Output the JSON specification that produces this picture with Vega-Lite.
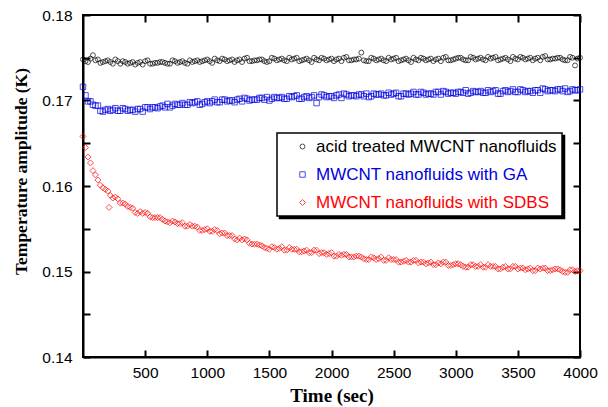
{
"$schema": "https://vega.github.io/schema/vega-lite/v6.json",
"width": 497, "height": 342,
"autosize": {"type": "none"},
"padding": {"left": 83, "top": 15, "right": 28, "bottom": 50},
"background": "white",
"config": {
 "view": {"stroke": "black", "strokeWidth": 2},
 "axis": {"grid": false, "domainColor": "black", "domainWidth": 2,
  "labelFont": "Liberation Sans", "labelFontSize": 15.5, "labelColor": "black",
  "titleFont": "Liberation Serif", "titleFontWeight": "bold", "titleColor": "black"},
 "legend": {"strokeWidth": 1.5}
},
"data": {"values": [
{"t":0,"s":"a","v":0.1748},{"t":40,"s":"a","v":0.1745},{"t":80,"s":"a","v":0.1753},{"t":120,"s":"a","v":0.1748},{"t":160,"s":"a","v":0.1745},{"t":200,"s":"a","v":0.1747},{"t":240,"s":"a","v":0.1743},{"t":280,"s":"a","v":0.1746},{"t":320,"s":"a","v":0.1746},{"t":360,"s":"a","v":0.1743},
{"t":400,"s":"a","v":0.1745},{"t":440,"s":"a","v":0.1744},{"t":480,"s":"a","v":0.1742},{"t":520,"s":"a","v":0.1747},{"t":560,"s":"a","v":0.1743},{"t":600,"s":"a","v":0.1744},{"t":640,"s":"a","v":0.1745},{"t":680,"s":"a","v":0.1743},{"t":720,"s":"a","v":0.1747},{"t":760,"s":"a","v":0.1744},
{"t":800,"s":"a","v":0.1746},{"t":840,"s":"a","v":0.1743},{"t":880,"s":"a","v":0.1745},{"t":920,"s":"a","v":0.1747},{"t":960,"s":"a","v":0.1746},{"t":1000,"s":"a","v":0.1748},{"t":1040,"s":"a","v":0.1744},{"t":1080,"s":"a","v":0.1747},{"t":1120,"s":"a","v":0.1749},{"t":1160,"s":"a","v":0.1746},
{"t":1200,"s":"a","v":0.1748},{"t":1240,"s":"a","v":0.1747},{"t":1280,"s":"a","v":0.1745},{"t":1320,"s":"a","v":0.1750},{"t":1360,"s":"a","v":0.1746},{"t":1400,"s":"a","v":0.1747},{"t":1440,"s":"a","v":0.1748},{"t":1480,"s":"a","v":0.1745},{"t":1520,"s":"a","v":0.1750},{"t":1560,"s":"a","v":0.1747},
{"t":1600,"s":"a","v":0.1749},{"t":1640,"s":"a","v":0.1746},{"t":1680,"s":"a","v":0.1748},{"t":1720,"s":"a","v":0.1750},{"t":1760,"s":"a","v":0.1747},{"t":1800,"s":"a","v":0.1749},{"t":1840,"s":"a","v":0.1745},{"t":1880,"s":"a","v":0.1748},{"t":1920,"s":"a","v":0.1750},{"t":1960,"s":"a","v":0.1747},
{"t":2000,"s":"a","v":0.1749},{"t":2040,"s":"a","v":0.1748},{"t":2080,"s":"a","v":0.1746},{"t":2120,"s":"a","v":0.1751},{"t":2160,"s":"a","v":0.1747},{"t":2200,"s":"a","v":0.1748},{"t":2240,"s":"a","v":0.1756},{"t":2280,"s":"a","v":0.1746},{"t":2320,"s":"a","v":0.1750},{"t":2360,"s":"a","v":0.1747},
{"t":2400,"s":"a","v":0.1749},{"t":2440,"s":"a","v":0.1746},{"t":2480,"s":"a","v":0.1748},{"t":2520,"s":"a","v":0.1750},{"t":2560,"s":"a","v":0.1747},{"t":2600,"s":"a","v":0.1749},{"t":2640,"s":"a","v":0.1745},{"t":2680,"s":"a","v":0.1748},{"t":2720,"s":"a","v":0.1750},{"t":2760,"s":"a","v":0.1747},
{"t":2800,"s":"a","v":0.1749},{"t":2840,"s":"a","v":0.1748},{"t":2880,"s":"a","v":0.1746},{"t":2920,"s":"a","v":0.1751},{"t":2960,"s":"a","v":0.1747},{"t":3000,"s":"a","v":0.1749},{"t":3040,"s":"a","v":0.1750},{"t":3080,"s":"a","v":0.1747},{"t":3120,"s":"a","v":0.1751},{"t":3160,"s":"a","v":0.1748},
{"t":3200,"s":"a","v":0.1750},{"t":3240,"s":"a","v":0.1747},{"t":3280,"s":"a","v":0.1749},{"t":3320,"s":"a","v":0.1751},{"t":3360,"s":"a","v":0.1748},{"t":3400,"s":"a","v":0.1750},{"t":3440,"s":"a","v":0.1746},{"t":3480,"s":"a","v":0.1749},{"t":3520,"s":"a","v":0.1751},{"t":3560,"s":"a","v":0.1748},
{"t":3600,"s":"a","v":0.1750},{"t":3640,"s":"a","v":0.1749},{"t":3680,"s":"a","v":0.1747},{"t":3720,"s":"a","v":0.1752},{"t":3760,"s":"a","v":0.1748},{"t":3800,"s":"a","v":0.1749},{"t":3840,"s":"a","v":0.1750},{"t":3880,"s":"a","v":0.1747},{"t":3920,"s":"a","v":0.1751},{"t":3960,"s":"a","v":0.1741},{"t":4000,"s":"a","v":0.1750},
{"t":20,"s":"a","v":0.1746},{"t":60,"s":"a","v":0.1749},{"t":100,"s":"a","v":0.1747},{"t":140,"s":"a","v":0.1744},{"t":180,"s":"a","v":0.1746},{"t":220,"s":"a","v":0.1745},{"t":260,"s":"a","v":0.1748},{"t":300,"s":"a","v":0.1743},{"t":340,"s":"a","v":0.1745},{"t":380,"s":"a","v":0.1744},
{"t":420,"s":"a","v":0.1742},{"t":460,"s":"a","v":0.1745},{"t":500,"s":"a","v":0.1746},{"t":540,"s":"a","v":0.1743},{"t":580,"s":"a","v":0.1744},{"t":620,"s":"a","v":0.1745},{"t":660,"s":"a","v":0.1744},{"t":700,"s":"a","v":0.1743},{"t":740,"s":"a","v":0.1746},{"t":780,"s":"a","v":0.1745},
{"t":820,"s":"a","v":0.1744},{"t":860,"s":"a","v":0.1747},{"t":900,"s":"a","v":0.1746},{"t":940,"s":"a","v":0.1745},{"t":980,"s":"a","v":0.1747},{"t":1020,"s":"a","v":0.1746},{"t":1060,"s":"a","v":0.1749},{"t":1100,"s":"a","v":0.1746},{"t":1140,"s":"a","v":0.1748},{"t":1180,"s":"a","v":0.1747},
{"t":1220,"s":"a","v":0.1745},{"t":1260,"s":"a","v":0.1748},{"t":1300,"s":"a","v":0.1749},{"t":1340,"s":"a","v":0.1746},{"t":1380,"s":"a","v":0.1747},{"t":1420,"s":"a","v":0.1748},{"t":1460,"s":"a","v":0.1746},{"t":1500,"s":"a","v":0.1746},{"t":1540,"s":"a","v":0.1749},{"t":1580,"s":"a","v":0.1748},
{"t":1620,"s":"a","v":0.1747},{"t":1660,"s":"a","v":0.1750},{"t":1700,"s":"a","v":0.1749},{"t":1740,"s":"a","v":0.1746},{"t":1780,"s":"a","v":0.1748},{"t":1820,"s":"a","v":0.1747},{"t":1860,"s":"a","v":0.1750},{"t":1900,"s":"a","v":0.1747},{"t":1940,"s":"a","v":0.1749},{"t":1980,"s":"a","v":0.1748},
{"t":2020,"s":"a","v":0.1746},{"t":2060,"s":"a","v":0.1749},{"t":2100,"s":"a","v":0.1750},{"t":2140,"s":"a","v":0.1747},{"t":2180,"s":"a","v":0.1748},{"t":2220,"s":"a","v":0.1749},{"t":2260,"s":"a","v":0.1747},{"t":2300,"s":"a","v":0.1746},{"t":2340,"s":"a","v":0.1749},{"t":2380,"s":"a","v":0.1748},
{"t":2420,"s":"a","v":0.1747},{"t":2460,"s":"a","v":0.1750},{"t":2500,"s":"a","v":0.1749},{"t":2540,"s":"a","v":0.1746},{"t":2580,"s":"a","v":0.1748},{"t":2620,"s":"a","v":0.1747},{"t":2660,"s":"a","v":0.1750},{"t":2700,"s":"a","v":0.1747},{"t":2740,"s":"a","v":0.1749},{"t":2780,"s":"a","v":0.1748},
{"t":2820,"s":"a","v":0.1746},{"t":2860,"s":"a","v":0.1749},{"t":2900,"s":"a","v":0.1750},{"t":2940,"s":"a","v":0.1747},{"t":2980,"s":"a","v":0.1748},{"t":3020,"s":"a","v":0.1750},{"t":3060,"s":"a","v":0.1748},{"t":3100,"s":"a","v":0.1747},{"t":3140,"s":"a","v":0.1750},{"t":3180,"s":"a","v":0.1749},
{"t":3220,"s":"a","v":0.1748},{"t":3260,"s":"a","v":0.1751},{"t":3300,"s":"a","v":0.1750},{"t":3340,"s":"a","v":0.1747},{"t":3380,"s":"a","v":0.1749},{"t":3420,"s":"a","v":0.1748},{"t":3460,"s":"a","v":0.1751},{"t":3500,"s":"a","v":0.1748},{"t":3540,"s":"a","v":0.1750},{"t":3580,"s":"a","v":0.1749},
{"t":3620,"s":"a","v":0.1747},{"t":3660,"s":"a","v":0.1750},{"t":3700,"s":"a","v":0.1751},{"t":3740,"s":"a","v":0.1748},{"t":3780,"s":"a","v":0.1749},{"t":3820,"s":"a","v":0.1750},{"t":3860,"s":"a","v":0.1748},{"t":3900,"s":"a","v":0.1747},{"t":3940,"s":"a","v":0.1750},{"t":3980,"s":"a","v":0.1749},
{"t":0,"s":"b","v":0.1716},{"t":40,"s":"b","v":0.1699},{"t":80,"s":"b","v":0.1695},{"t":120,"s":"b","v":0.1694},{"t":160,"s":"b","v":0.1687},{"t":200,"s":"b","v":0.1690},{"t":240,"s":"b","v":0.1689},{"t":280,"s":"b","v":0.1688},{"t":320,"s":"b","v":0.1691},{"t":360,"s":"b","v":0.1688},
{"t":400,"s":"b","v":0.1689},{"t":440,"s":"b","v":0.1690},{"t":480,"s":"b","v":0.1687},{"t":520,"s":"b","v":0.1692},{"t":560,"s":"b","v":0.1692},{"t":600,"s":"b","v":0.1691},{"t":640,"s":"b","v":0.1694},{"t":680,"s":"b","v":0.1696},{"t":720,"s":"b","v":0.1694},{"t":760,"s":"b","v":0.1695},
{"t":800,"s":"b","v":0.1697},{"t":840,"s":"b","v":0.1695},{"t":880,"s":"b","v":0.1697},{"t":920,"s":"b","v":0.1699},{"t":960,"s":"b","v":0.1696},{"t":1000,"s":"b","v":0.1699},{"t":1040,"s":"b","v":0.1699},{"t":1080,"s":"b","v":0.1698},{"t":1120,"s":"b","v":0.1701},{"t":1160,"s":"b","v":0.1699},
{"t":1200,"s":"b","v":0.1700},{"t":1240,"s":"b","v":0.1701},{"t":1280,"s":"b","v":0.1699},{"t":1320,"s":"b","v":0.1702},{"t":1360,"s":"b","v":0.1701},{"t":1400,"s":"b","v":0.1701},{"t":1440,"s":"b","v":0.1703},{"t":1480,"s":"b","v":0.1704},{"t":1520,"s":"b","v":0.1702},{"t":1560,"s":"b","v":0.1703},
{"t":1600,"s":"b","v":0.1704},{"t":1640,"s":"b","v":0.1702},{"t":1680,"s":"b","v":0.1704},{"t":1720,"s":"b","v":0.1706},{"t":1760,"s":"b","v":0.1702},{"t":1800,"s":"b","v":0.1705},{"t":1840,"s":"b","v":0.1704},{"t":1880,"s":"b","v":0.1697},{"t":1920,"s":"b","v":0.1707},{"t":1960,"s":"b","v":0.1704},
{"t":2000,"s":"b","v":0.1705},{"t":2040,"s":"b","v":0.1706},{"t":2080,"s":"b","v":0.1703},{"t":2120,"s":"b","v":0.1707},{"t":2160,"s":"b","v":0.1706},{"t":2200,"s":"b","v":0.1705},{"t":2240,"s":"b","v":0.1707},{"t":2280,"s":"b","v":0.1708},{"t":2320,"s":"b","v":0.1705},{"t":2360,"s":"b","v":0.1707},
{"t":2400,"s":"b","v":0.1708},{"t":2440,"s":"b","v":0.1706},{"t":2480,"s":"b","v":0.1707},{"t":2520,"s":"b","v":0.1709},{"t":2560,"s":"b","v":0.1705},{"t":2600,"s":"b","v":0.1708},{"t":2640,"s":"b","v":0.1708},{"t":2680,"s":"b","v":0.1707},{"t":2720,"s":"b","v":0.1710},{"t":2760,"s":"b","v":0.1707},
{"t":2800,"s":"b","v":0.1708},{"t":2840,"s":"b","v":0.1710},{"t":2880,"s":"b","v":0.1707},{"t":2920,"s":"b","v":0.1710},{"t":2960,"s":"b","v":0.1709},{"t":3000,"s":"b","v":0.1708},{"t":3040,"s":"b","v":0.1710},{"t":3080,"s":"b","v":0.1712},{"t":3120,"s":"b","v":0.1709},{"t":3160,"s":"b","v":0.1710},
{"t":3200,"s":"b","v":0.1711},{"t":3240,"s":"b","v":0.1709},{"t":3280,"s":"b","v":0.1710},{"t":3320,"s":"b","v":0.1712},{"t":3360,"s":"b","v":0.1708},{"t":3400,"s":"b","v":0.1712},{"t":3440,"s":"b","v":0.1711},{"t":3480,"s":"b","v":0.1710},{"t":3520,"s":"b","v":0.1713},{"t":3560,"s":"b","v":0.1710},
{"t":3600,"s":"b","v":0.1711},{"t":3640,"s":"b","v":0.1712},{"t":3680,"s":"b","v":0.1709},{"t":3720,"s":"b","v":0.1713},{"t":3760,"s":"b","v":0.1712},{"t":3800,"s":"b","v":0.1711},{"t":3840,"s":"b","v":0.1713},{"t":3880,"s":"b","v":0.1714},{"t":3920,"s":"b","v":0.1711},{"t":3960,"s":"b","v":0.1712},{"t":4000,"s":"b","v":0.1713},
{"t":20,"s":"b","v":0.1706},{"t":60,"s":"b","v":0.1699},{"t":100,"s":"b","v":0.1694},{"t":140,"s":"b","v":0.1688},{"t":180,"s":"b","v":0.1689},{"t":220,"s":"b","v":0.1688},{"t":260,"s":"b","v":0.1691},{"t":300,"s":"b","v":0.1688},{"t":340,"s":"b","v":0.1690},{"t":380,"s":"b","v":0.1689},
{"t":420,"s":"b","v":0.1687},{"t":460,"s":"b","v":0.1690},{"t":500,"s":"b","v":0.1692},{"t":540,"s":"b","v":0.1690},{"t":580,"s":"b","v":0.1692},{"t":620,"s":"b","v":0.1693},{"t":660,"s":"b","v":0.1692},{"t":700,"s":"b","v":0.1692},{"t":740,"s":"b","v":0.1696},{"t":780,"s":"b","v":0.1695},
{"t":820,"s":"b","v":0.1695},{"t":860,"s":"b","v":0.1698},{"t":900,"s":"b","v":0.1698},{"t":940,"s":"b","v":0.1695},{"t":980,"s":"b","v":0.1698},{"t":1020,"s":"b","v":0.1697},{"t":1060,"s":"b","v":0.1701},{"t":1100,"s":"b","v":0.1698},{"t":1140,"s":"b","v":0.1701},{"t":1180,"s":"b","v":0.1700},
{"t":1220,"s":"b","v":0.1698},{"t":1260,"s":"b","v":0.1702},{"t":1300,"s":"b","v":0.1703},{"t":1340,"s":"b","v":0.1700},{"t":1380,"s":"b","v":0.1701},{"t":1420,"s":"b","v":0.1703},{"t":1460,"s":"b","v":0.1701},{"t":1500,"s":"b","v":0.1700},{"t":1540,"s":"b","v":0.1704},{"t":1580,"s":"b","v":0.1703},
{"t":1620,"s":"b","v":0.1702},{"t":1660,"s":"b","v":0.1705},{"t":1700,"s":"b","v":0.1705},{"t":1740,"s":"b","v":0.1702},{"t":1780,"s":"b","v":0.1704},{"t":1820,"s":"b","v":0.1703},{"t":1860,"s":"b","v":0.1706},{"t":1900,"s":"b","v":0.1704},{"t":1940,"s":"b","v":0.1706},{"t":1980,"s":"b","v":0.1705},
{"t":2020,"s":"b","v":0.1703},{"t":2060,"s":"b","v":0.1707},{"t":2100,"s":"b","v":0.1708},{"t":2140,"s":"b","v":0.1705},{"t":2180,"s":"b","v":0.1706},{"t":2220,"s":"b","v":0.1707},{"t":2260,"s":"b","v":0.1705},{"t":2300,"s":"b","v":0.1704},{"t":2340,"s":"b","v":0.1708},{"t":2380,"s":"b","v":0.1707},
{"t":2420,"s":"b","v":0.1706},{"t":2460,"s":"b","v":0.1709},{"t":2500,"s":"b","v":0.1708},{"t":2540,"s":"b","v":0.1705},{"t":2580,"s":"b","v":0.1708},{"t":2620,"s":"b","v":0.1707},{"t":2660,"s":"b","v":0.1710},{"t":2700,"s":"b","v":0.1707},{"t":2740,"s":"b","v":0.1709},{"t":2780,"s":"b","v":0.1708},
{"t":2820,"s":"b","v":0.1707},{"t":2860,"s":"b","v":0.1710},{"t":2900,"s":"b","v":0.1711},{"t":2940,"s":"b","v":0.1708},{"t":2980,"s":"b","v":0.1709},{"t":3020,"s":"b","v":0.1710},{"t":3060,"s":"b","v":0.1709},{"t":3100,"s":"b","v":0.1708},{"t":3140,"s":"b","v":0.1711},{"t":3180,"s":"b","v":0.1710},
{"t":3220,"s":"b","v":0.1709},{"t":3260,"s":"b","v":0.1712},{"t":3300,"s":"b","v":0.1711},{"t":3340,"s":"b","v":0.1708},{"t":3380,"s":"b","v":0.1711},{"t":3420,"s":"b","v":0.1710},{"t":3460,"s":"b","v":0.1713},{"t":3500,"s":"b","v":0.1710},{"t":3540,"s":"b","v":0.1712},{"t":3580,"s":"b","v":0.1711},
{"t":3620,"s":"b","v":0.1709},{"t":3660,"s":"b","v":0.1712},{"t":3700,"s":"b","v":0.1714},{"t":3740,"s":"b","v":0.1711},{"t":3780,"s":"b","v":0.1712},{"t":3820,"s":"b","v":0.1713},{"t":3860,"s":"b","v":0.1711},{"t":3900,"s":"b","v":0.1710},{"t":3940,"s":"b","v":0.1713},{"t":3980,"s":"b","v":0.1712},
{"t":0,"s":"c","v":0.1658},{"t":40,"s":"c","v":0.1634},{"t":80,"s":"c","v":0.1618},{"t":120,"s":"c","v":0.1607},{"t":160,"s":"c","v":0.1598},{"t":200,"s":"c","v":0.1594},{"t":210,"s":"c","v":0.1575},{"t":240,"s":"c","v":0.1586},{"t":280,"s":"c","v":0.1585},{"t":320,"s":"c","v":0.1580},{"t":360,"s":"c","v":0.1576},
{"t":400,"s":"c","v":0.1574},{"t":440,"s":"c","v":0.1568},{"t":480,"s":"c","v":0.1568},{"t":520,"s":"c","v":0.1568},{"t":560,"s":"c","v":0.1563},{"t":600,"s":"c","v":0.1563},{"t":640,"s":"c","v":0.1561},{"t":680,"s":"c","v":0.1558},{"t":720,"s":"c","v":0.1559},{"t":760,"s":"c","v":0.1556},
{"t":800,"s":"c","v":0.1557},{"t":840,"s":"c","v":0.1553},{"t":880,"s":"c","v":0.1553},{"t":920,"s":"c","v":0.1552},{"t":960,"s":"c","v":0.1548},{"t":1000,"s":"c","v":0.1550},{"t":1040,"s":"c","v":0.1547},{"t":1080,"s":"c","v":0.1548},{"t":1120,"s":"c","v":0.1545},{"t":1160,"s":"c","v":0.1542},
{"t":1200,"s":"c","v":0.1542},{"t":1240,"s":"c","v":0.1537},{"t":1280,"s":"c","v":0.1537},{"t":1320,"s":"c","v":0.1537},{"t":1360,"s":"c","v":0.1532},{"t":1400,"s":"c","v":0.1532},{"t":1440,"s":"c","v":0.1530},{"t":1480,"s":"c","v":0.1527},{"t":1520,"s":"c","v":0.1529},{"t":1560,"s":"c","v":0.1526},
{"t":1600,"s":"c","v":0.1529},{"t":1640,"s":"c","v":0.1525},{"t":1680,"s":"c","v":0.1526},{"t":1720,"s":"c","v":0.1526},{"t":1760,"s":"c","v":0.1523},{"t":1800,"s":"c","v":0.1525},{"t":1840,"s":"c","v":0.1522},{"t":1880,"s":"c","v":0.1525},{"t":1920,"s":"c","v":0.1522},{"t":1960,"s":"c","v":0.1520},
{"t":2000,"s":"c","v":0.1522},{"t":2040,"s":"c","v":0.1518},{"t":2080,"s":"c","v":0.1519},{"t":2120,"s":"c","v":0.1520},{"t":2160,"s":"c","v":0.1517},{"t":2200,"s":"c","v":0.1518},{"t":2240,"s":"c","v":0.1517},{"t":2280,"s":"c","v":0.1514},{"t":2320,"s":"c","v":0.1517},{"t":2360,"s":"c","v":0.1514},
{"t":2400,"s":"c","v":0.1517},{"t":2440,"s":"c","v":0.1513},{"t":2480,"s":"c","v":0.1514},{"t":2520,"s":"c","v":0.1514},{"t":2560,"s":"c","v":0.1511},{"t":2600,"s":"c","v":0.1513},{"t":2640,"s":"c","v":0.1511},{"t":2680,"s":"c","v":0.1513},{"t":2720,"s":"c","v":0.1511},{"t":2760,"s":"c","v":0.1509},
{"t":2800,"s":"c","v":0.1511},{"t":2840,"s":"c","v":0.1508},{"t":2880,"s":"c","v":0.1509},{"t":2920,"s":"c","v":0.1511},{"t":2960,"s":"c","v":0.1507},{"t":3000,"s":"c","v":0.1509},{"t":3040,"s":"c","v":0.1508},{"t":3080,"s":"c","v":0.1505},{"t":3120,"s":"c","v":0.1508},{"t":3160,"s":"c","v":0.1506},
{"t":3200,"s":"c","v":0.1508},{"t":3240,"s":"c","v":0.1505},{"t":3280,"s":"c","v":0.1506},{"t":3320,"s":"c","v":0.1506},{"t":3360,"s":"c","v":0.1503},{"t":3400,"s":"c","v":0.1506},{"t":3440,"s":"c","v":0.1503},{"t":3480,"s":"c","v":0.1506},{"t":3520,"s":"c","v":0.1504},{"t":3560,"s":"c","v":0.1502},
{"t":3600,"s":"c","v":0.1504},{"t":3640,"s":"c","v":0.1501},{"t":3680,"s":"c","v":0.1503},{"t":3720,"s":"c","v":0.1504},{"t":3760,"s":"c","v":0.1501},{"t":3800,"s":"c","v":0.1503},{"t":3840,"s":"c","v":0.1502},{"t":3880,"s":"c","v":0.1499},{"t":3920,"s":"c","v":0.1502},{"t":3960,"s":"c","v":0.1500},{"t":4000,"s":"c","v":0.1501},
{"t":20,"s":"c","v":0.1645},{"t":60,"s":"c","v":0.1627},{"t":100,"s":"c","v":0.1613},{"t":140,"s":"c","v":0.1601},{"t":180,"s":"c","v":0.1596},{"t":220,"s":"c","v":0.1589},{"t":260,"s":"c","v":0.1587},{"t":300,"s":"c","v":0.1580},{"t":340,"s":"c","v":0.1579},{"t":380,"s":"c","v":0.1575},
{"t":420,"s":"c","v":0.1569},{"t":460,"s":"c","v":0.1570},{"t":500,"s":"c","v":0.1569},{"t":540,"s":"c","v":0.1564},{"t":580,"s":"c","v":0.1563},{"t":620,"s":"c","v":0.1563},{"t":660,"s":"c","v":0.1559},{"t":700,"s":"c","v":0.1557},{"t":740,"s":"c","v":0.1558},{"t":780,"s":"c","v":0.1556},
{"t":820,"s":"c","v":0.1553},{"t":860,"s":"c","v":0.1555},{"t":900,"s":"c","v":0.1553},{"t":940,"s":"c","v":0.1548},{"t":980,"s":"c","v":0.1549},{"t":1020,"s":"c","v":0.1547},{"t":1060,"s":"c","v":0.1549},{"t":1100,"s":"c","v":0.1544},{"t":1140,"s":"c","v":0.1545},{"t":1180,"s":"c","v":0.1542},
{"t":1220,"s":"c","v":0.1538},{"t":1260,"s":"c","v":0.1539},{"t":1300,"s":"c","v":0.1538},{"t":1340,"s":"c","v":0.1533},{"t":1380,"s":"c","v":0.1532},{"t":1420,"s":"c","v":0.1531},{"t":1460,"s":"c","v":0.1528},{"t":1500,"s":"c","v":0.1526},{"t":1540,"s":"c","v":0.1528},{"t":1580,"s":"c","v":0.1527},
{"t":1620,"s":"c","v":0.1525},{"t":1660,"s":"c","v":0.1528},{"t":1700,"s":"c","v":0.1526},{"t":1740,"s":"c","v":0.1523},{"t":1780,"s":"c","v":0.1524},{"t":1820,"s":"c","v":0.1522},{"t":1860,"s":"c","v":0.1525},{"t":1900,"s":"c","v":0.1521},{"t":1940,"s":"c","v":0.1522},{"t":1980,"s":"c","v":0.1521},
{"t":2020,"s":"c","v":0.1518},{"t":2060,"s":"c","v":0.1520},{"t":2100,"s":"c","v":0.1520},{"t":2140,"s":"c","v":0.1517},{"t":2180,"s":"c","v":0.1517},{"t":2220,"s":"c","v":0.1518},{"t":2260,"s":"c","v":0.1515},{"t":2300,"s":"c","v":0.1514},{"t":2340,"s":"c","v":0.1516},{"t":2380,"s":"c","v":0.1515},
{"t":2420,"s":"c","v":0.1513},{"t":2460,"s":"c","v":0.1516},{"t":2500,"s":"c","v":0.1514},{"t":2540,"s":"c","v":0.1511},{"t":2580,"s":"c","v":0.1512},{"t":2620,"s":"c","v":0.1511},{"t":2660,"s":"c","v":0.1513},{"t":2700,"s":"c","v":0.1510},{"t":2740,"s":"c","v":0.1511},{"t":2780,"s":"c","v":0.1510},
{"t":2820,"s":"c","v":0.1508},{"t":2860,"s":"c","v":0.1510},{"t":2900,"s":"c","v":0.1511},{"t":2940,"s":"c","v":0.1507},{"t":2980,"s":"c","v":0.1508},{"t":3020,"s":"c","v":0.1509},{"t":3060,"s":"c","v":0.1506},{"t":3100,"s":"c","v":0.1505},{"t":3140,"s":"c","v":0.1508},{"t":3180,"s":"c","v":0.1506},
{"t":3220,"s":"c","v":0.1505},{"t":3260,"s":"c","v":0.1508},{"t":3300,"s":"c","v":0.1506},{"t":3340,"s":"c","v":0.1503},{"t":3380,"s":"c","v":0.1505},{"t":3420,"s":"c","v":0.1503},{"t":3460,"s":"c","v":0.1506},{"t":3500,"s":"c","v":0.1503},{"t":3540,"s":"c","v":0.1504},{"t":3580,"s":"c","v":0.1503},
{"t":3620,"s":"c","v":0.1501},{"t":3660,"s":"c","v":0.1504},{"t":3700,"s":"c","v":0.1504},{"t":3740,"s":"c","v":0.1501},{"t":3780,"s":"c","v":0.1502},{"t":3820,"s":"c","v":0.1503},{"t":3860,"s":"c","v":0.1500},{"t":3900,"s":"c","v":0.1499},{"t":3940,"s":"c","v":0.1502},{"t":3980,"s":"c","v":0.1501}
]},
"layer": [
 {"mark": {"type": "point", "filled": false, "strokeWidth": 1, "clip": false},
  "encoding": {
   "x": {"field": "t", "type": "quantitative", "scale": {"domain": [0, 4000], "nice": false, "zero": false},
     "axis": {"values": [500,1000,1500,2000,2500,3000,3500,4000], "format": "d", "labelFlush": false, "ticks": false, "labelPadding": 8, "title": "Time (sec)", "titleFontSize": 19, "titleBaseline": "alphabetic", "titleY": 44}},
   "y": {"field": "v", "type": "quantitative", "scale": {"domain": [0.14, 0.18], "nice": false, "zero": false},
     "axis": {"values": [0.14,0.15,0.16,0.17,0.18], "format": ".2f", "ticks": false, "labelPadding": 11, "title": "Temperature amplitude (K)", "titleFontSize": 17.5, "titleBaseline": "alphabetic", "titleX": -57, "titleY": 156}},
   "color": {"field": "s", "type": "nominal", "scale": {"domain": ["a","b","c"], "range": ["black", "#0000e0", "#ff0000"]},
     "legend": {"title": null, "orient": "none", "legendX": 194, "legendY": 118, "zindex": 2, "fillColor": "white", "strokeColor": "black", "padding": 5,
       "symbolOffset": 12, "labelOffset": 5, "rowPadding": 10, "symbolSize": 22, "symbolStrokeWidth": 1, "labelLimit": 400,
       "labelFont": "Liberation Sans", "labelFontSize": 17,
       "labelExpr": "datum.label == 'a' ? 'acid treated MWCNT nanofluids' : datum.label == 'b' ? 'MWCNT nanofluids with GA' : 'MWCNT nanofluids with SDBS'",
       "labelColor": {"expr": "datum.value == 'a' ? 'black' : datum.value == 'b' ? '#0000e0' : '#ff0000'"}}},
   "shape": {"field": "s", "type": "nominal", "scale": {"domain": ["a","b","c"], "range": ["circle", "square", "diamond"]}},
   "size": {"field": "s", "type": "nominal", "scale": {"domain": ["a","b","c"], "range": [24, 36, 45]}, "legend": null}
  }},
 {"mark": {"type": "point", "opacity": 0},
  "encoding": {
   "x": {"field": "t", "type": "quantitative", "axis": {"orient": "top", "offset": -342, "domain": false, "ticks": true, "tickSize": 7, "tickWidth": 2, "tickColor": "black", "values": [500,1000,1500,2000,2500,3000,3500,4000], "labels": false, "title": null}},
   "y": {"field": "v", "type": "quantitative", "axis": {"orient": "right", "offset": -497, "domain": false, "ticks": true, "tickSize": 7, "tickWidth": 2, "tickColor": "black", "values": [0.14,0.145,0.15,0.155,0.16,0.165,0.17,0.175,0.18], "labels": false, "title": null}},
   "strokeWidth": {"field": "s", "type": "nominal", "scale": {"domain": ["c","b","a"], "range": [1, 1, 1]},
     "legend": {"title": null, "orient": "none", "legendX": 196.5, "legendY": 120.5, "zindex": 1, "fillColor": "black", "strokeColor": "black", "padding": 5,
       "symbolOffset": 12, "labelOffset": 246, "rowPadding": 10, "symbolSize": 22, "symbolOpacity": 0,
       "labelFont": "Liberation Sans", "labelFontSize": 17, "labelExpr": "''"}}
  }},
 {"mark": {"type": "point", "opacity": 0},
  "encoding": {
   "x": {"field": "t", "type": "quantitative", "axis": {"orient": "bottom", "offset": -342, "domain": false, "ticks": true, "tickSize": 7, "tickWidth": 2, "tickColor": "black", "values": [500,1000,1500,2000,2500,3000,3500,4000], "labels": false, "title": null}},
   "y": {"field": "v", "type": "quantitative", "axis": {"orient": "left", "offset": -497, "domain": false, "ticks": true, "tickSize": 7, "tickWidth": 2, "tickColor": "black", "values": [0.14,0.145,0.15,0.155,0.16,0.165,0.17,0.175,0.18], "labels": false, "title": null}}
  }}
],
"resolve": {"axis": {"x": "independent", "y": "independent"}}
}
